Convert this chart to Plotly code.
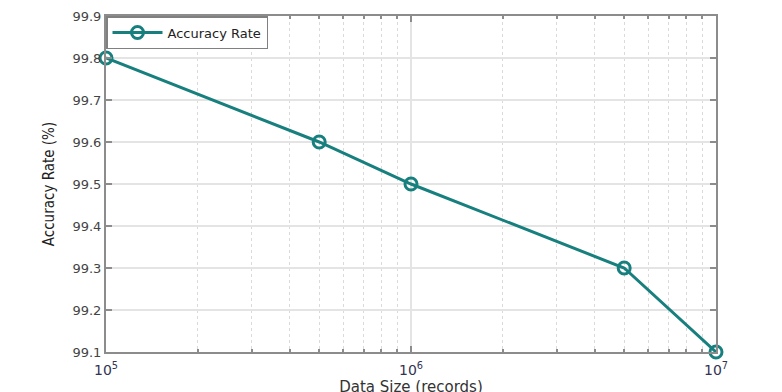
import plotly.graph_objects as go

data_size = [1e5, 5e5, 1e6, 5e6, 1e7]
accuracy = [99.8, 99.6, 99.5, 99.3, 99.1]
x_tick_vals = [1e5, 1e6, 1e7]
x_tick_text = ["10<sup>5</sup>", "10<sup>6</sup>", "10<sup>7</sup>"]
x_minor_vals = [k * 1e5 for k in range(2, 10)] + [k * 1e6 for k in range(2, 10)]
y_tick_vals = [99.1, 99.2, 99.3, 99.4, 99.5, 99.6, 99.7, 99.8, 99.9]

teal = "#17807e"
axis_col = "#8c8c8c"

fig = go.Figure()
fig.add_trace(go.Scatter(
    x=data_size, y=accuracy, mode="lines+markers", name="Accuracy Rate",
    line=dict(color=teal, width=3),
    marker=dict(symbol="circle-open", size=12, color=teal, line=dict(width=3, color=teal)),
    cliponaxis=False,
))

fig.update_layout(
    width=782, height=392,
    margin=dict(l=98, r=74, t=8, b=48),
    paper_bgcolor="white", plot_bgcolor="white",
    font=dict(family="DejaVu Sans", size=13, color="#444444"),
    showlegend=True,
    legend=dict(x=0.0, y=1.0, xanchor="left", yanchor="top",
                bordercolor="#808080", borderwidth=1.5, bgcolor="white",
                font=dict(family="DejaVu Sans", size=13, color="#222222"),
                itemwidth=50, tracegroupgap=0),
    xaxis=dict(
        type="log", range=[5, 7], automargin=False,
        tickvals=x_tick_vals, ticktext=x_tick_text,
        ticks="inside", ticklen=6, tickcolor=axis_col, tickwidth=1.5,
        ticklabelstandoff=4,
        showline=True, linecolor=axis_col, linewidth=2, mirror="ticks",
        showgrid=True, gridcolor="#e4e4e4", gridwidth=1.5,
        minor=dict(tickvals=x_minor_vals, ticks="inside", ticklen=3, tickcolor=axis_col,
                   showgrid=True, gridcolor="#dadada", griddash="dot", gridwidth=1),
        tickfont=dict(family="DejaVu Sans", size=14, color="#333355"),
        title=dict(text="Data Size (records)", standoff=0,
                   font=dict(family="DejaVu Sans", size=15, color="#333333")),
        zeroline=False,
    ),
    yaxis=dict(
        range=[99.1, 99.9], tickvals=y_tick_vals, tickformat=".1f", automargin=False,
        ticks="inside", ticklen=6, tickcolor=axis_col, tickwidth=1.5,
        showline=True, linecolor=axis_col, linewidth=2, mirror="ticks",
        showgrid=True, gridcolor="#e4e4e4", gridwidth=1.5,
        tickfont=dict(family="DejaVu Sans", size=13, color="#444444"),
        title=dict(text="Accuracy Rate (%)", standoff=14,
                   font=dict(family="DejaVu Sans Condensed", size=15, color="#222222")),
        zeroline=False,
    ),
)

fig.write_html("out.html")
